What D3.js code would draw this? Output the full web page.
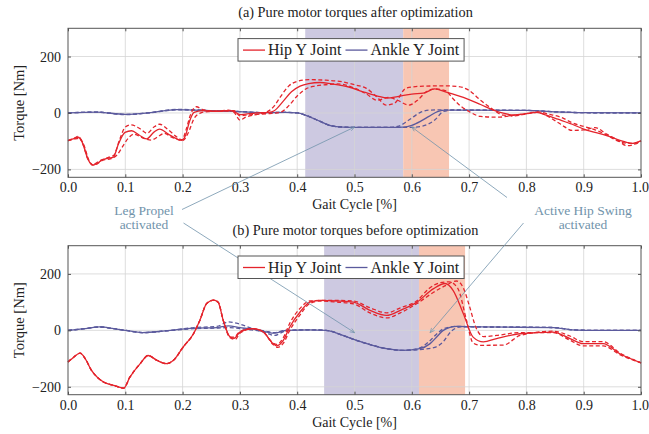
<!DOCTYPE html>
<html>
<head>
<meta charset="utf-8">
<script src="https://cdn.jsdelivr.net/npm/d3@7"></script>
<style>
  body { margin: 0; background: #fff; }
  svg, text { font-family: "Liberation Serif", "DejaVu Serif", serif; }
  text { fill: #222; }
</style>
</head>
<body>
<div id="chart"></div>
<script>
// ---- data (Gait cycle fraction, torque in Nm) ----
const xTicks = [0, 0.1, 0.2, 0.3, 0.4, 0.5, 0.6, 0.7, 0.8, 0.9, 1.0];
const yTicks = [-200, 0, 200];
const legendLabels = ["Hip Y Joint", "Ankle Y Joint"];
const titles = ["(a) Pure motor torques after optimization", "(b) Pure motor torques before optimization"];

// shaded phases [start, end]
const propelAfter = [0.414, 0.585];
const swingAfter = [0.585, 0.665];
const propelBefore = [0.447, 0.6125];
const swingBefore = [0.6125, 0.693];

// (a) after optimization
const hipAfter = [[0,-98],[0.012,-90],[0.018,-86],[0.025,-105],[0.035,-165],[0.043,-185],[0.05,-180],[0.06,-166],[0.07,-160],[0.079,-157],[0.088,-110],[0.0995,-69],[0.111,-63],[0.124,-78],[0.137,-92],[0.15,-68],[0.16,-57],[0.175,-75],[0.19,-92],[0.198,-97],[0.205,-80],[0.212,-30],[0.22,2],[0.235,8],[0.26,6],[0.28,8],[0.29,5],[0.3,-6],[0.31,-4],[0.33,0],[0.35,2],[0.36,8],[0.375,40],[0.39,75],[0.405,95],[0.42,104],[0.44,108],[0.46,103],[0.49,92],[0.515,75],[0.54,60],[0.557,53],[0.575,58],[0.6,67],[0.62,70],[0.64,85],[0.66,74],[0.69,55],[0.72,30],[0.745,8],[0.778,-7],[0.8,-2],[0.818,2],[0.835,-8],[0.855,-22],[0.88,-40],[0.9,-57],[0.94,-80],[0.975,-104],[0.985,-108],[1.0,-98]];
const hipAfterHi = [[0,-98],[0.012,-88],[0.018,-83],[0.025,-105],[0.035,-165],[0.043,-183],[0.055,-170],[0.07,-158],[0.08,-150],[0.09,-95],[0.1,-50],[0.11,-42],[0.125,-55],[0.138,-72],[0.15,-50],[0.16,-40],[0.175,-60],[0.19,-85],[0.199,-95],[0.206,-60],[0.214,-5],[0.224,22],[0.235,12],[0.26,6],[0.28,10],[0.29,2],[0.3,-25],[0.31,-15],[0.33,-5],[0.345,2],[0.36,25],[0.37,55],[0.385,95],[0.4,112],[0.42,118],[0.45,116],[0.48,110],[0.5,100],[0.52,88],[0.54,55],[0.555,28],[0.57,35],[0.59,88],[0.62,95],[0.66,96],[0.68,94],[0.7,80],[0.72,45],[0.74,15],[0.76,-8],[0.78,-10],[0.8,-3],[0.82,2],[0.84,-15],[0.86,-40],[0.88,-62],[0.9,-60],[0.92,-52],[0.94,-75],[0.96,-97],[0.975,-116],[0.99,-110],[1.0,-100]];
const hipAfterLo = [[0,-98],[0.012,-92],[0.02,-90],[0.027,-110],[0.037,-170],[0.045,-185],[0.06,-168],[0.075,-162],[0.085,-150],[0.095,-120],[0.105,-90],[0.115,-75],[0.13,-88],[0.145,-96],[0.16,-80],[0.168,-72],[0.18,-85],[0.195,-96],[0.2,-98],[0.21,-70],[0.22,-20],[0.232,0],[0.245,5],[0.27,6],[0.29,8],[0.3,-10],[0.31,-8],[0.33,-5],[0.35,-2],[0.37,2],[0.385,25],[0.4,60],[0.415,85],[0.43,95],[0.45,100],[0.47,103],[0.5,88],[0.52,68],[0.54,45],[0.56,55],[0.575,45],[0.595,28],[0.61,45],[0.625,75],[0.64,85],[0.66,78],[0.67,55],[0.685,25],[0.7,5],[0.72,-12],[0.75,-15],[0.78,-8],[0.8,-2],[0.82,4],[0.84,-5],[0.86,-15],[0.88,-35],[0.9,-48],[0.92,-60],[0.94,-78],[0.96,-100],[0.98,-108],[1.0,-102]];
const ankleAfter = [[0,0],[0.05,3],[0.1,-5],[0.14,0],[0.19,12],[0.22,10],[0.26,7],[0.3,5],[0.34,1],[0.38,2],[0.4,0],[0.42,-12],[0.44,-30],[0.46,-46],[0.48,-50],[0.5,-51],[0.56,-51],[0.585,-50],[0.6,-44],[0.615,-30],[0.63,-12],[0.645,5],[0.66,10],[0.7,10],[0.8,9],[0.85,4],[0.9,1],[1.0,0]];
const ankleAfterHi = [[0,0],[0.05,3],[0.1,-6],[0.14,0],[0.19,13],[0.22,11],[0.26,7],[0.3,5],[0.34,1],[0.38,2],[0.4,0],[0.42,-12],[0.44,-30],[0.46,-46],[0.48,-50],[0.5,-51],[0.56,-51],[0.575,-48],[0.595,-25],[0.615,2],[0.63,10],[0.66,11],[0.7,10],[0.8,9],[0.85,4],[0.9,1],[1.0,0]];
const ankleAfterLo = [[0,0],[0.05,3],[0.1,-5],[0.14,0],[0.19,11],[0.22,10],[0.26,7],[0.3,5],[0.34,1],[0.38,2],[0.4,0],[0.42,-12],[0.44,-30],[0.46,-46],[0.48,-50],[0.5,-51],[0.56,-51],[0.6,-51],[0.62,-46],[0.64,-25],[0.655,5],[0.67,10],[0.7,10],[0.8,9],[0.85,4],[0.9,1],[1.0,0]];

// (b) before optimization
const hipBefore = [[0,-112],[0.01,-95],[0.021,-81],[0.03,-100],[0.041,-142],[0.052,-168],[0.062,-183],[0.08,-195],[0.097,-205],[0.108,-166],[0.126,-118],[0.14,-89],[0.155,-106],[0.172,-118],[0.184,-106],[0.201,-59],[0.219,-12],[0.23,35],[0.242,95],[0.254,107],[0.262,100],[0.271,35],[0.283,-24],[0.29,-28],[0.3,-6],[0.323,6],[0.341,-6],[0.358,-47],[0.364,-55],[0.376,-35],[0.387,12],[0.405,65],[0.422,100],[0.44,106],[0.47,104],[0.498,100],[0.527,71],[0.556,53],[0.58,71],[0.609,100],[0.638,148],[0.658,166],[0.672,142],[0.69,59],[0.707,-24],[0.725,-41],[0.748,-29],[0.789,-12],[0.847,-6],[0.876,-29],[0.899,-47],[0.934,-47],[0.963,-83],[1.0,-115]];
const hipBeforeHi = [[0,-112],[0.01,-95],[0.021,-81],[0.03,-100],[0.041,-142],[0.052,-168],[0.062,-183],[0.08,-195],[0.097,-205],[0.108,-166],[0.126,-118],[0.14,-89],[0.155,-106],[0.172,-118],[0.184,-106],[0.201,-59],[0.219,-12],[0.23,35],[0.242,95],[0.254,107],[0.262,100],[0.271,35],[0.283,-24],[0.29,-24],[0.3,-4],[0.323,6],[0.341,-6],[0.358,-45],[0.364,-50],[0.376,-25],[0.387,25],[0.405,78],[0.422,104],[0.44,106],[0.47,106],[0.498,104],[0.527,80],[0.556,62],[0.58,80],[0.609,105],[0.63,148],[0.648,168],[0.665,172],[0.68,150],[0.695,40],[0.707,-45],[0.72,-53],[0.76,-52],[0.789,-18],[0.847,-3],[0.876,-20],[0.899,-40],[0.934,-40],[0.963,-80],[1.0,-115]];
const hipBeforeLo = [[0,-112],[0.01,-95],[0.021,-81],[0.03,-100],[0.041,-142],[0.052,-168],[0.062,-183],[0.08,-195],[0.097,-205],[0.108,-166],[0.126,-118],[0.14,-89],[0.155,-106],[0.172,-118],[0.184,-106],[0.201,-59],[0.219,-12],[0.23,35],[0.242,95],[0.254,107],[0.262,100],[0.271,35],[0.283,-26],[0.292,-32],[0.3,-10],[0.323,6],[0.341,-6],[0.358,-50],[0.366,-60],[0.376,-45],[0.387,0],[0.405,55],[0.422,95],[0.44,104],[0.47,100],[0.498,94],[0.527,62],[0.556,44],[0.58,62],[0.609,95],[0.638,135],[0.66,160],[0.678,175],[0.69,150],[0.7,90],[0.712,10],[0.725,-22],[0.748,-18],[0.789,-8],[0.847,-8],[0.876,-35],[0.899,-55],[0.934,-55],[0.963,-86],[1.0,-115]];
const ankleBefore = [[0,0],[0.03,6],[0.055,12],[0.08,6],[0.1,0],[0.13,-8],[0.17,-2],[0.22,8],[0.26,10],[0.28,16],[0.3,10],[0.32,5],[0.345,-5],[0.36,-10],[0.38,0],[0.42,2],[0.45,0],[0.48,-18],[0.5,-33],[0.53,-52],[0.556,-65],[0.585,-71],[0.614,-65],[0.632,-47],[0.645,-20],[0.655,0],[0.678,14],[0.72,12],[0.847,10],[0.88,2],[0.92,0],[1.0,0]];
const ankleBeforeHi = [[0,0],[0.03,6],[0.055,12],[0.08,6],[0.1,0],[0.13,-8],[0.17,-2],[0.22,10],[0.26,14],[0.28,30],[0.3,22],[0.32,8],[0.345,-3],[0.36,-8],[0.38,0],[0.42,2],[0.45,0],[0.48,-18],[0.5,-33],[0.53,-52],[0.556,-65],[0.585,-71],[0.614,-62],[0.63,-40],[0.645,-10],[0.655,5],[0.678,14],[0.72,12],[0.847,10],[0.88,2],[0.92,0],[1.0,0]];
const ankleBeforeLo = [[0,0],[0.03,6],[0.055,12],[0.08,6],[0.1,0],[0.13,-8],[0.17,-2],[0.22,6],[0.26,8],[0.28,10],[0.3,6],[0.32,2],[0.345,-8],[0.36,-18],[0.38,-2],[0.42,2],[0.45,0],[0.48,-18],[0.5,-33],[0.53,-52],[0.556,-65],[0.585,-71],[0.614,-68],[0.64,-60],[0.655,-40],[0.668,-5],[0.685,12],[0.72,12],[0.847,10],[0.88,2],[0.92,0],[1.0,0]];

// ---- layout ----
const W = 649, H = 434;
const plotLeft = 68, plotRight = 641, plotH = 149;
const panelTops = [28.3, 245.7];
const hipColor = "#e4242c", ankleColor = "#5b5a9d";
const noteColor = "#7193ab";
const serif = "'Liberation Serif', 'DejaVu Serif', serif";

const svg = d3.select("#chart").append("svg")
    .attr("width", W)
    .attr("height", H)
    .attr("font-family", serif);

svg.append("defs").append("marker")
    .attr("id", "arrow")
    .attr("viewBox", "0 0 10 10")
    .attr("refX", 9).attr("refY", 5)
    .attr("markerWidth", 7).attr("markerHeight", 7)
    .attr("orient", "auto")
  .append("path")
    .attr("d", "M1,1.5 L9,5 L1,8.5")
    .attr("fill", "none")
    .attr("stroke", noteColor)
    .attr("stroke-width", 1.2);

const x = d3.scaleLinear().domain([0, 1]).range([plotLeft, plotRight]);

function drawPanel(top, title, propel, swing, hip, hipHi, hipLo, ankle, ankleHi, ankleLo) {
    const y = d3.scaleLinear().domain([-228, 300]).range([top + plotH, top]);
    const g = svg.append("g");

    // title
    g.append("text")
        .attr("x", (plotLeft + plotRight) / 2 + 1)
        .attr("y", top - 11)
        .attr("text-anchor", "middle")
        .style("font-size", "14.3px")
        .text(title);

    // phase bands
    g.append("rect")
        .attr("x", x(propel[0])).attr("width", x(propel[1]) - x(propel[0]))
        .attr("y", top).attr("height", plotH)
        .attr("fill", "#cdc9e1");
    g.append("rect")
        .attr("x", x(swing[0])).attr("width", x(swing[1]) - x(swing[0]))
        .attr("y", top).attr("height", plotH)
        .attr("fill", "#f8c6b3");

    // grid
    g.selectAll(".vgrid").data(xTicks.slice(1, -1)).enter().append("line")
        .attr("x1", d => x(d)).attr("x2", d => x(d))
        .attr("y1", top).attr("y2", top + plotH)
        .attr("stroke", "#d4d4d4").attr("stroke-width", 0.8);
    g.selectAll(".hgrid").data(yTicks).enter().append("line")
        .attr("x1", plotLeft).attr("x2", plotRight)
        .attr("y1", d => y(d)).attr("y2", d => y(d))
        .attr("stroke", "#d4d4d4").attr("stroke-width", 0.8);

    // curves
    const line = d3.line()
        .x(d => x(d[0]))
        .y(d => y(d[1]))
        .curve(d3.curveMonotoneX);

    const curves = [
        { data: ankleHi, color: ankleColor, dash: "4,2.5" },
        { data: ankleLo, color: ankleColor, dash: "4,2.5" },
        { data: ankle, color: ankleColor, dash: null },
        { data: hipHi, color: hipColor, dash: "4,2.5" },
        { data: hipLo, color: hipColor, dash: "4,2.5" },
        { data: hip, color: hipColor, dash: null }
    ];
    g.selectAll(".curve").data(curves).enter().append("path")
        .attr("d", d => line(d.data))
        .attr("fill", "none")
        .attr("stroke", d => d.color)
        .attr("stroke-width", 1.3)
        .attr("stroke-dasharray", d => d.dash);

    // frame
    g.append("rect")
        .attr("x", plotLeft).attr("y", top)
        .attr("width", plotRight - plotLeft).attr("height", plotH)
        .attr("fill", "none").attr("stroke", "#555").attr("stroke-width", 1);

    // axes (ticks inside)
    const xAxis = g.append("g")
        .attr("transform", `translate(0, ${top + plotH})`)
        .call(d3.axisBottom(x).tickValues(xTicks).tickFormat(d3.format(".1f"))
            .tickSizeInner(-3).tickSizeOuter(0).tickPadding(5));
    const xAxisTop = g.append("g")
        .attr("transform", `translate(0, ${top})`)
        .call(d3.axisTop(x).tickValues(xTicks).tickFormat("").tickSizeInner(-3).tickSizeOuter(0));
    const yAxis = g.append("g")
        .attr("transform", `translate(${plotLeft}, 0)`)
        .call(d3.axisLeft(y).tickValues(yTicks).tickSizeInner(-3).tickSizeOuter(0).tickPadding(7));
    const yAxisRight = g.append("g")
        .attr("transform", `translate(${plotRight}, 0)`)
        .call(d3.axisRight(y).tickValues(yTicks).tickFormat("").tickSizeInner(-3).tickSizeOuter(0));
    [xAxis, xAxisTop, yAxis, yAxisRight].forEach(a => {
        a.attr("font-family", serif);
        a.select(".domain").remove();
        a.selectAll(".tick line").attr("stroke", "#555");
        a.selectAll(".tick text")
            .style("font-size", "14px")
            .attr("fill", "#222");
    });
    // keep the last x label inside the page
    xAxis.selectAll(".tick text").filter(d => d === 1)
        .attr("text-anchor", "end")
        .attr("x", 7.5);

    // axis labels
    g.append("text")
        .attr("x", (plotLeft + plotRight) / 2)
        .attr("y", top + plotH + 32)
        .attr("text-anchor", "middle")
        .style("font-size", "14px")
        .text("Gait Cycle [%]");
    g.append("text")
        .attr("transform", `translate(24, ${top + plotH / 2}) rotate(-90)`)
        .attr("text-anchor", "middle")
        .style("font-size", "14.5px")
        .text("Torque [Nm]");

    return { g, y, top };
}

const panelA = drawPanel(panelTops[0], titles[0], propelAfter, swingAfter,
    hipAfter, hipAfterHi, hipAfterLo, ankleAfter, ankleAfterHi, ankleAfterLo);
const panelB = drawPanel(panelTops[1], titles[1], propelBefore, swingBefore,
    hipBefore, hipBeforeHi, hipBeforeLo, ankleBefore, ankleBeforeHi, ankleBeforeLo);

// annotations: text anchors and arrow targets in data space
const notes = [
    { lines: ["Leg Propel", "activated"], cx: 144, cy: 211,
      from: [[182, 209.5], [183.5, 223]],
      to: [[panelA, 0.5, -50], [panelB, 0.5, -8]] },
    { lines: ["Active Hip Swing", "activated"], cx: 583, cy: 211,
      from: [[507, 197.5], [523.5, 223]],
      to: [[panelA, 0.6, -50], [panelB, 0.632, -8]] }
];

notes.forEach(n => {
    n.to.forEach((t, i) => {
        svg.append("line")
            .attr("x1", n.from[i][0]).attr("y1", n.from[i][1])
            .attr("x2", x(t[1])).attr("y2", t[0].y(t[2]))
            .attr("stroke", noteColor).attr("stroke-width", 0.8)
            .attr("marker-end", "url(#arrow)");
    });
    n.lines.forEach((s, i) => {
        svg.append("text")
            .attr("x", n.cx).attr("y", n.cy + 4 + i * 14)
            .attr("text-anchor", "middle")
            .style("font-size", "13.5px")
            .style("fill", noteColor)
            .text(s);
    });
});

// legends drawn last so they sit above the annotation lines
[panelA, panelB].forEach(p => {
    const lg = svg.append("g").attr("transform", `translate(238, ${p.top + 10.3})`);
    const box = lg.append("rect")
        .attr("x", 0).attr("y", 0).attr("height", 22.5)
        .attr("fill", "#fff").attr("stroke", "#555").attr("stroke-width", 1);
    const colors = [hipColor, ankleColor];
    let cursor = 5;
    legendLabels.forEach((label, i) => {
        lg.append("line")
            .attr("x1", cursor).attr("x2", cursor + 22)
            .attr("y1", 11.5).attr("y2", 11.5)
            .attr("stroke", colors[i]).attr("stroke-width", 1.3);
        const t = lg.append("text")
            .attr("x", cursor + 25).attr("y", 16.5)
            .style("font-size", "16px")
            .text(label);
        cursor += 25 + t.node().getComputedTextLength() + 4;
    });
    box.attr("width", cursor + 1);
});
</script>
</body>
</html>
